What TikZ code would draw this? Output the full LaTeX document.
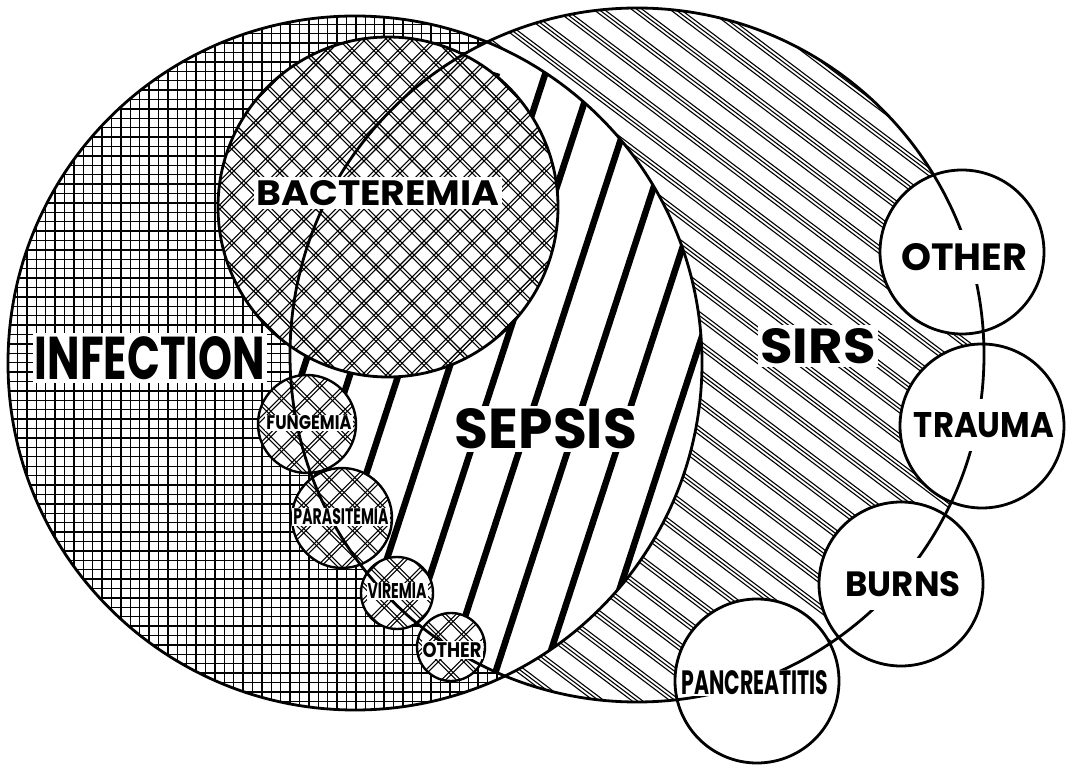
\documentclass[tikz,border=0pt]{standalone}
\usepackage{fontspec}
\setmainfont{Poppins}
\usepackage{graphicx}
\begin{document}
\begin{tikzpicture}[x=1pt,y=-1pt,
  outl/.style={line width=2.8pt},
  thinout/.style={line width=2.4pt},
  gridl/.style={line width=1.4pt},
  hatchl/.style={line width=1.1pt},
  xl/.style={line width=1.1pt},
  stripel/.style={line width=6.5pt},
  lab/.style={fill=white,inner xsep=2pt,inner ysep=3pt,font=\bfseries},
  rlab/.style={fill=white,inner xsep=2pt,inner ysep=13pt,font=\bfseries},
  slab/.style={fill=white,inner sep=1pt,font=\bfseries}]
\useasboundingbox (0,0) rectangle (1069,767);
\fill[white] (0,0) rectangle (1069,767);
\coordinate (I) at (355,363);
\coordinate (S) at (637,355);
\coordinate (B) at (388,207);
% SIRS hatch (triple lines)
\begin{scope}
  \clip (S) circle (347);
  \begin{scope}[shift={(S)}, rotate=-37]
    \foreach \k in {-17,...,17} {
      \foreach \d in {-3.2,0,3.2} {
        \draw[hatchl] (-420,{\k*23+\d}) -- (420,{\k*23+\d});
      }
    }
  \end{scope}
\end{scope}
% Infection grid
\begin{scope}
  \clip (I) circle (347);
  \fill[white] (I) circle (347);
  \foreach \k in {0,...,75} {
    \draw[gridl] ({8+\k*9.4},0) -- ({8+\k*9.4},767);
    \draw[gridl] (0,{15+\k*9.4}) -- (720,{15+\k*9.4});
  }
\end{scope}
% Sepsis stripes
\begin{scope}
  \clip (I) circle (347);
  \clip (S) circle (347);
  \fill[white] (0,0) rectangle (1069,767);
  \foreach \k in {-7,...,9} {
    \draw[stripel] ({470+48.5*\k+124},73) -- ({470+48.5*\k-124},833);
  }
\end{scope}
% Bacteremia
\begin{scope}
  \clip (B) circle (170);
  \fill[white] (B) circle (170);
  \begin{scope}[shift={(B)}, rotate=45]
    \foreach \k in {-12,...,12} {
      \foreach \d in {-1.5,1.5} {
        \draw[xl] (-200,{\k*17+\d}) -- (200,{\k*17+\d});
        \draw[xl] ({\k*17+\d},-200) -- ({\k*17+\d},200);
      }
    }
  \end{scope}
\end{scope}
\draw[outl] (B) circle (170);
% small infection circles
\foreach \cx/\cy/\r in {307/424/49, 342/518/50, 397/593/36, 451/647/34} {
  \begin{scope}
    \clip (\cx,\cy) circle (\r);
    \fill[white] (\cx,\cy) circle (\r);
    \begin{scope}[shift={(\cx,\cy)}, rotate=45]
      \foreach \k in {-4,...,4} {
        \foreach \d in {-1.5,1.5} {
          \draw[xl] (-60,{\k*18+\d}) -- (60,{\k*18+\d});
          \draw[xl] ({\k*18+\d},-60) -- ({\k*18+\d},60);
        }
      }
    \end{scope}
  \end{scope}
  \draw[thinout] (\cx,\cy) circle (\r);
}
% right circles
\foreach \cx/\cy in {962/252, 982/426, 901/584, 757/681} {
  \fill[white] (\cx,\cy) circle (82);
  \draw[outl] (\cx,\cy) circle (82);
}
% main outlines
\draw[outl] (I) circle (347);
\draw[outl] (S) circle (347);
% labels
\node[lab] (infection) at (150,358) {\resizebox{230pt}{43pt}{INFECTION}};
\node[lab] (bacteremia) at (378,193) {\resizebox{243pt}{25pt}{BACTEREMIA}};
\node[lab] (sepsis) at (546,429) {\resizebox{182pt}{40pt}{SEPSIS}};
\node[lab] (sirs) at (818,346) {\resizebox{115pt}{35pt}{SIRS}};
\node[rlab] (otherR) at (964,257) {\resizebox{126pt}{27pt}{OTHER}};
\node[rlab] (trauma) at (984,425) {\resizebox{140pt}{25pt}{TRAUMA}};
\node[rlab] (burns) at (903,584) {\resizebox{115pt}{25pt}{BURNS}};
\node[slab] (pancreatitis) at (755,683) {\resizebox{147pt}{24pt}{PANCREATITIS}};
\node[slab] (fungemia) at (309,423) {\resizebox{85pt}{14pt}{FUNGEMIA}};
\node[slab] (parasitemia) at (341,517) {\resizebox{95pt}{16pt}{PARASITEMIA}};
\node[slab] (viremia) at (397,591) {\resizebox{59pt}{15pt}{VIREMIA}};
\node[slab] (otherL) at (452,650) {\resizebox{59pt}{15pt}{OTHER}};
\end{tikzpicture}
\end{document}
